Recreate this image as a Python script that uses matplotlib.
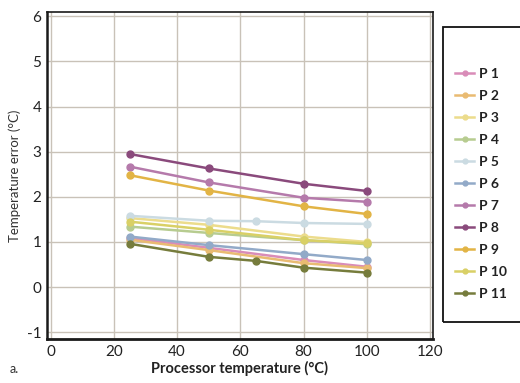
import matplotlib.pyplot as plt
from matplotlib.patches import Rectangle

# processor temperature points (deg C)
x_main = [25, 50, 80, 100]
x_mid = [25, 50, 65, 80, 100]

names = ["P 1", "P 2", "P 3", "P 4", "P 5", "P 6", "P 7", "P 8", "P 9", "P 10", "P 11"]
colors = ["#d98cb8", "#e9bb72", "#ecdc8c", "#b7cc90", "#cbdbe2", "#92aac8",
          "#b57aab", "#8a4a7c", "#e2b445", "#d9d066", "#767c3c"]

p1 = [1.09, 0.87, 0.60, 0.45]
p2 = [1.05, 0.82, 0.53, 0.42]
p3 = [1.53, 1.38, 1.12, 1.00]
p4 = [1.34, 1.20, 1.04, 0.95]
p5 = [1.58, 1.47, 1.46, 1.42, 1.40]
p6 = [1.12, 0.93, 0.73, 0.60]
p7 = [2.67, 2.32, 1.98, 1.89]
p8 = [2.95, 2.63, 2.29, 2.13]
p9 = [2.48, 2.14, 1.79, 1.62]
p10 = [1.45, 1.27, 1.04, 0.97]
p11 = [0.96, 0.67, 0.58, 0.43, 0.32]

series = [p1, p2, p3, p4, p5, p6, p7, p8, p9, p10, p11]

plt.rcParams['font.family'] = ['Lato', 'DejaVu Sans']

fig = plt.figure(figsize=(5.2, 3.83), dpi=100)
ax = fig.add_axes([0.090, 0.115, 0.743, 0.854])

for name, col, ys in zip(names, colors, series):
    xs = x_mid if len(ys) == 5 else x_main
    ax.plot(xs, ys, color=col, lw=1.8, marker='o', ms=5, label=name)

ax.set_xlim(-1.2, 121)
ax.set_ylim(-1.15, 6.1)
ax.set_xticks([0, 20, 40, 60, 80, 100, 120])
ax.set_yticks([-1, 0, 1, 2, 3, 4, 5, 6])
ax.set_yticklabels(["-1", "0", "1", "2", "3", "4", "5", "6"])
ax.grid(True, color="#c9c2b8", lw=1.0)
ax.set_axisbelow(True)
ax.tick_params(length=0, labelsize=11, colors="#222222", pad=4)
for s in ax.spines.values():
    s.set_color("#1a1a1a")
    s.set_linewidth(1.2)
ax.spines['left'].set_linewidth(1.8)
ax.spines['bottom'].set_linewidth(2.0)

ax.set_xlabel("Processor temperature (°C)", fontsize=10.5, fontweight='bold',
              color="#222222", labelpad=2)
ax.set_ylabel("Temperature error (°C)", fontsize=9.5, color="#333333", labelpad=4)

fig.text(0.018, 0.025, "a.", fontsize=9, color="#333333")

# legend box drawn separately, runs off the right edge as in the reference
box = Rectangle((443 / 520, 1 - 322 / 383), 0.2, (322 - 27) / 383,
                transform=fig.transFigure, fill=False, edgecolor="#111111",
                lw=1.3, clip_on=False)
fig.patches.append(box)

leg = fig.legend(loc='upper left', bbox_to_anchor=(448 / 520, 1 - 61 / 383),
                 frameon=False, handlelength=1.4, handletextpad=0.35,
                 labelspacing=0.72, borderpad=0,
                 prop={'weight': 'bold', 'size': 10})
for t in leg.get_texts():
    t.set_color("#222222")
for h in leg.legend_handles:
    h.set_markersize(3.5)

fig.savefig("out.png", dpi=100)
